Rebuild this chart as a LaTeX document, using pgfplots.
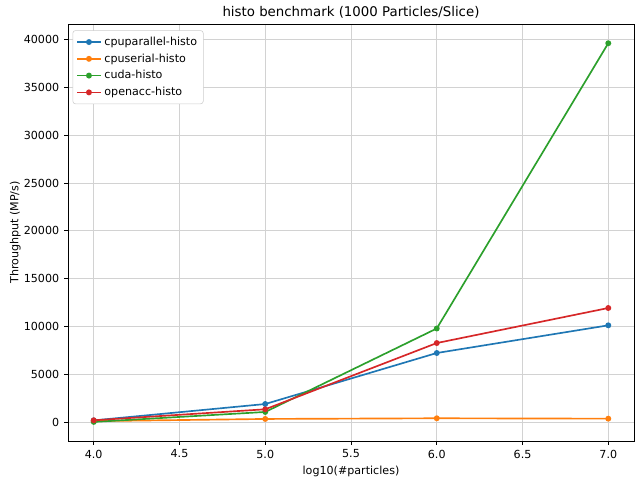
\documentclass[border=0pt]{standalone}
\usepackage{fontspec}
\setmainfont{DejaVu Sans}
\usepackage{pgfplots}
\pgfplotsset{compat=1.18}
\definecolor{c0}{HTML}{1F77B4}
\definecolor{c1}{HTML}{FF7F0E}
\definecolor{c2}{HTML}{2CA02C}
\definecolor{c3}{HTML}{D62728}
\begin{document}
\begin{tikzpicture}
\begin{axis}[name=ax,
  scale only axis, width=407.5pt, height=300.2pt,
  xmin=3.85, xmax=7.15, ymin=-1950, ymax=41610,
  xtick={4,4.5,5,5.5,6,6.5,7},
  xticklabel style={/pgf/number format/.cd, fixed, fixed zerofill, precision=1},
  ytick={0,5000,10000,15000,20000,25000,30000,35000,40000},
  yticklabel style={/pgf/number format/.cd, 1000 sep={}},
  /pgf/number format/assume math mode=true,
  scaled y ticks=false,
  tick align=outside, tick pos=left,
  major tick length=2.8pt,
  tick style={black, line width=0.64pt},
  axis line style={line width=0.64pt},
  grid=major, major grid style={color=gray!35, line width=0.64pt},
  ticklabel style={font=\fontsize{8}{9.6}\selectfont},
  title={histo benchmark (1000 Particles/Slice)},
  title style={font=\fontsize{9.6}{11.5}\selectfont, yshift=-5.5pt},
  xlabel={log10(\#particles)}, ylabel={Throughput (MP/s)},
  label style={font=\fontsize{8}{9.6}\selectfont},
  xlabel style={yshift=1.5pt}, ylabel style={yshift=-4.5pt},
  legend style={font=\fontsize{8}{9.6}\selectfont, draw=gray!40, rounded corners=2pt, at={(0.008,0.985)}, anchor=north west, row sep=0.5pt, inner sep=2.5pt},
  legend cell align=left,
  every axis plot/.append style={line width=1.2pt, mark=*, mark size=1.5pt},
]
\addplot[c0, mark options={fill=c0}] coordinates {(4,200) (5,1910) (6,7240) (7,10130)};
\addlegendentry{cpuparallel-histo}
\addplot[c1, mark options={fill=c1}] coordinates {(4,120) (5,350) (6,420) (7,380)};
\addlegendentry{cpuserial-histo}
\addplot[c2, mark options={fill=c2}] coordinates {(4,40) (5,1080) (6,9800) (7,39600)};
\addlegendentry{cuda-histo}
\addplot[c3, mark options={fill=c3}] coordinates {(4,210) (5,1360) (6,8280) (7,11940)};
\addlegendentry{openacc-histo}
\end{axis}
\pgfresetboundingbox
\path (ax.south west) ++(-48.96pt,-25.92pt) coordinate (bl);
\path (ax.north east) ++(0.72pt,17.28pt) coordinate (tr);
\path (bl) rectangle (tr);
\end{tikzpicture}
\end{document}
